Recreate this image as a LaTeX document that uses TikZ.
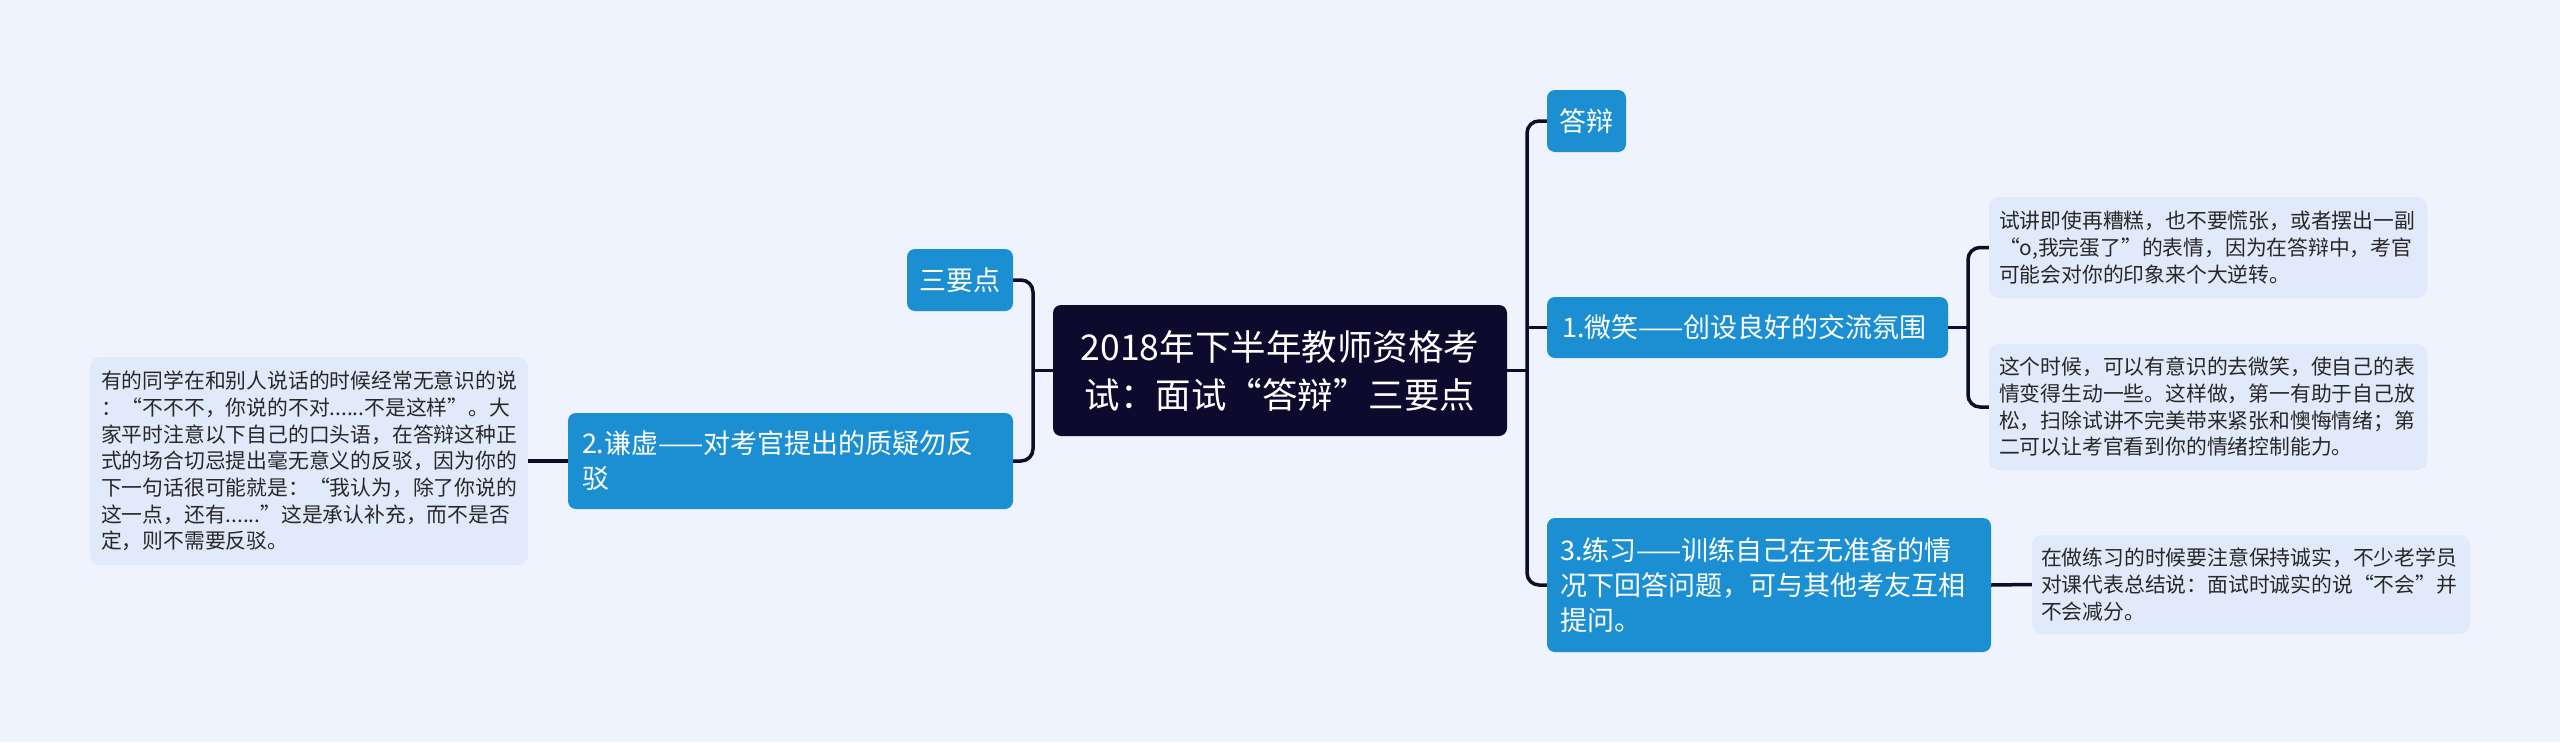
\documentclass[tikz,border=0pt]{standalone}
\usepackage{fontspec}
\setmainfont{Noto Sans CJK SC}
\definecolor{bgc}{RGB}{238,243,253}
\definecolor{rootc}{RGB}{13,10,46}
\definecolor{bluec}{RGB}{27,143,209}
\definecolor{leafc}{RGB}{225,234,250}
\definecolor{textc}{RGB}{40,40,40}
\definecolor{linec}{RGB}{15,12,40}
\begin{document}
\begin{tikzpicture}[x=1pt,y=-1pt,
  root/.style={fill=rootc, text=white, rounded corners=8pt, inner xsep=25pt, inner ysep=4pt, text width=404pt, minimum height=131pt, align=center, font=\fontsize{35.5}{48}\selectfont},
  topic/.style={fill=bluec, text=white, rounded corners=8pt, inner ysep=4pt, font=\fontsize{27}{35}\selectfont, align=left},
  leaf/.style={fill=leafc, text=textc, rounded corners=10pt, inner ysep=4pt, font=\fontsize{20.8}{26.7}\selectfont, align=left},
  conn/.style={draw=linec, line width=3.5pt, rounded corners=12pt}]
\useasboundingbox (0,0) rectangle (2560,742);
\fill[bgc] (0,0) rectangle (2560,742);

\node[root] (c) at (1280,370.5) {2018年下半年教师资格考\\试：面试“答辩”三要点};
\node[topic, align=center, inner xsep=0pt, minimum width=106pt, minimum height=62pt] (s) at (960,280) {三要点};
\node[topic, text width=417pt, inner xsep=14pt, minimum height=96pt] (q2) at (790.5,461) {2.谦虚——对考官提出的质疑勿反\\驳};
\node[leaf, text width=416pt, inner xsep=11pt, minimum height=208pt] (lL) at (309,461) {有的同学在和别人说话的时候经常无意识的说\\：“不不不，你说的不对......不是这样”。大\\家平时注意以下自己的口头语，在答辩这种正\\式的场合切忌提出毫无意义的反驳，因为你的\\下一句话很可能就是：“我认为，除了你说的\\这一点，还有......”这是承认补充，而不是否\\定，则不需要反驳。};
\node[topic, align=center, inner xsep=0pt, minimum width=79pt, minimum height=62pt] (d) at (1586.5,121) {答辩};
\node[topic, text width=371pt, inner xsep=15pt, minimum height=61pt] (w1) at (1747.5,327.5) {1.微笑——创设良好的交流氛围};
\node[topic, text width=418pt, inner xsep=13pt, minimum height=134pt] (p3) at (1769,585) {3.练习——训练自己在无准备的情\\况下回答问题，可与其他考友互相\\提问。};
\node[leaf, text width=418pt, inner xsep=10pt, minimum height=101pt] (l1) at (2208,247.5) {试讲即使再糟糕，也不要慌张，或者摆出一副\\“o,我完蛋了”的表情，因为在答辩中，考官\\可能会对你的印象来个大逆转。};
\node[leaf, text width=418pt, inner xsep=10pt, minimum height=126pt] (l2) at (2208,407) {这个时候，可以有意识的去微笑，使自己的表\\情变得生动一些。这样做，第一有助于自己放\\松，扫除试讲不完美带来紧张和懊悔情绪；第\\二可以让考官看到你的情绪控制能力。};
\node[leaf, text width=420pt, inner xsep=9pt, minimum height=99pt] (l3) at (2251,584.5) {在做练习的时候要注意保持诚实，不少老学员\\对课代表总结说：面试时诚实的说“不会”并\\不会减分。};

\coordinate (lj) at (1033,370.5);
\coordinate (rj) at (1527,370.5);
\coordinate (sj) at (1968,327.5);

\draw[conn] (s.east) -| (lj) |- (q2.east);
\draw[conn] (c.west) -- (lj);
\draw[conn] (q2.west) -- (lL.east);
\draw[conn] (d.west) -| (rj) |- (p3.west);
\draw[conn] (c.east) -- (rj);
\draw[conn] (w1.west) -- (w1.west -| rj);
\draw[conn] (l1.west) -| (sj) |- (l2.west);
\draw[conn] (w1.east) -- (sj);
\draw[conn] (p3.east) -- (l3.west);
\end{tikzpicture}
\end{document}
